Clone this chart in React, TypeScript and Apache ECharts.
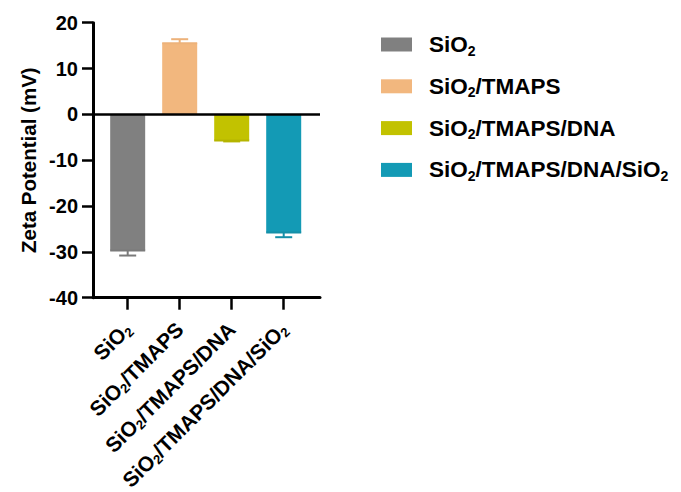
import React, { useEffect, useRef } from 'react';
import * as echarts from 'echarts';

// Samples, in the order they are plotted
const categories = ['SiO2', 'SiO2/TMAPS', 'SiO2/TMAPS/DNA', 'SiO2/TMAPS/DNA/SiO2'];
// Mean zeta potential (mV) and its error
const means = [-29.7, 15.5, -5.7, -25.8];
const errors = [1.1, 0.9, 0.2, 1.0];
// Bar fill and error bar colours
const barColors = ['#808080', '#F2B77E', '#C2C200', '#139AB5'];
const errColors = ['#7A7A7A', '#EDB27A', '#B5B500', '#148FA8'];

// Category slot layout along the numeric x axis
const SLOT_OFFSET = 0.667;
const X_MAX = 4.365;
const positions = categories.map((_, i) => i + SLOT_OFFSET);

const FONT = 'Arial, "Liberation Sans", sans-serif';

// Turn "SiO2" into rich text with a subscript 2
const toRich = (name: string) =>
  name
    .split('SiO2')
    .map((p) => (p ? `{n|${p}}` : ''))
    .join('{n|SiO}{s|2}');

const App: React.FC = () => {
  const ref = useRef<HTMLDivElement>(null);

  useEffect(() => {
    if (!ref.current) return;
    const chart = echarts.init(ref.current, undefined, { renderer: 'svg' });

    const barWidth = 35;

    const barSeries = categories.map((name, i) => ({
      name,
      type: 'bar' as const,
      stack: 'one',
      barWidth,
      itemStyle: { color: barColors[i] },
      data: [[positions[i], means[i]]],
      ...(i === 0
        ? {
            markLine: {
              silent: true,
              symbol: ['none', 'none'],
              label: { show: false },
              lineStyle: { color: '#000', width: 2.5, type: 'solid' },
              data: [{ yAxis: 0 }],
              z: 5,
            },
          }
        : {}),
    }));

    const errorSeries = {
      type: 'custom' as const,
      name: 'error',
      z: 4,
      data: categories.map((_, i) => [positions[i], means[i], errors[i]]),
      renderItem: (params: any, api: any) => {
        const x = api.value(0);
        const v = api.value(1);
        const e = api.value(2);
        const end = api.coord([x, v]);
        const tip = api.coord([x, v + Math.sign(v) * e]);
        const style = { stroke: errColors[params.dataIndex], lineWidth: 2 };
        const barHalf = barWidth / 2;
        const capHalf = 8.5;
        return {
          type: 'group',
          children: [
            { type: 'line', shape: { x1: end[0] - barHalf, y1: end[1], x2: end[0] + barHalf, y2: end[1] }, style },
            { type: 'line', shape: { x1: end[0], y1: end[1], x2: tip[0], y2: tip[1] }, style },
            { type: 'line', shape: { x1: tip[0] - capHalf, y1: tip[1], x2: tip[0] + capHalf, y2: tip[1] }, style },
          ],
        };
      },
    };

    const labelRich = {
      n: { fontSize: 21, fontWeight: 'bold', color: '#000', fontFamily: FONT, lineHeight: 24 },
      s: { fontSize: 13, fontWeight: 'bold', color: '#000', fontFamily: FONT, lineHeight: 13, verticalAlign: 'bottom' },
    };

    const legendRich = {
      n: { fontSize: 22.5, fontWeight: 'bold', color: '#000', fontFamily: FONT, lineHeight: 26 },
      s: { fontSize: 14, fontWeight: 'bold', color: '#000', fontFamily: FONT, lineHeight: 14, verticalAlign: 'bottom' },
    };

    chart.setOption({
      animation: false,
      textStyle: { fontFamily: FONT },
      grid: { left: 85, top: 14.7, width: 227, height: 275 },
      legend: {
        orient: 'vertical',
        left: 368,
        top: 20,
        itemWidth: 31,
        itemHeight: 14,
        itemGap: 17.3,
        icon: 'rect',
        data: categories,
        selectedMode: false,
        formatter: (name: string) => toRich(name),
        textStyle: { padding: [0, 0, 0, 12], rich: legendRich },
      },
      xAxis: {
        type: 'value',
        min: 0,
        max: X_MAX,
        splitLine: { show: false },
        axisLine: { show: true, onZero: false, lineStyle: { color: '#000', width: 3 } },
        axisTick: {
          show: true,
          length: 12,
          lineStyle: { color: '#000', width: 2.5 },
          customValues: positions,
        },
        axisLabel: {
          customValues: positions,
          rotate: 45,
          margin: 28,
          formatter: (value: number) => {
            const idx = Math.round(value - SLOT_OFFSET);
            return categories[idx] ? toRich(categories[idx]) : '';
          },
          rich: labelRich,
        },
      },
      yAxis: {
        type: 'value',
        min: -40,
        max: 20,
        interval: 10,
        name: 'Zeta Potential (mV)',
        nameLocation: 'middle',
        nameGap: 54,
        nameTextStyle: { fontSize: 20.5, fontWeight: 'bold', color: '#000', fontFamily: FONT },
        splitLine: { show: false },
        axisLine: { show: true, lineStyle: { color: '#000', width: 3 } },
        axisTick: { show: true, length: 11, lineStyle: { color: '#000', width: 2.5 } },
        axisLabel: { fontSize: 20, fontWeight: 'bold', color: '#000', margin: 15, fontFamily: FONT },
      },
      series: [...barSeries, errorSeries],
    });

    return () => chart.dispose();
  }, []);

  return <div ref={ref} style={{ width: 681, height: 492 }} />;
};

export default App;
